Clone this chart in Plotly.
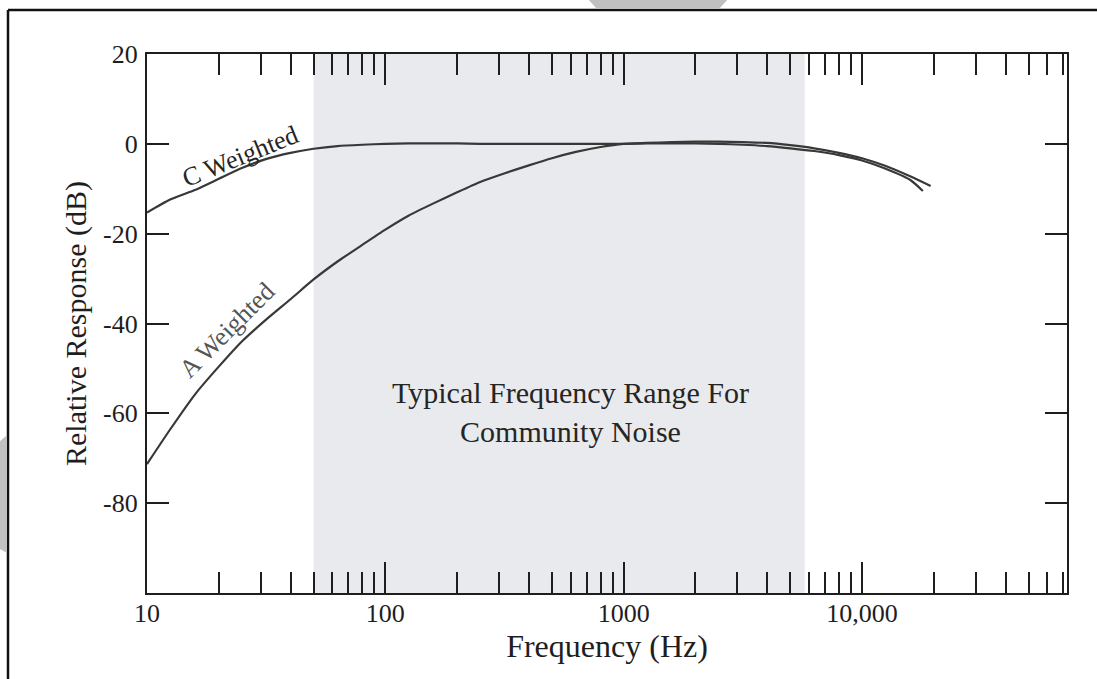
import plotly.graph_objects as go

# ---- data ----
freq_c_hz = [10, 12.5, 16, 20, 25, 31.5, 40, 50, 63, 80, 100, 125, 160, 200, 250, 315,
             400, 500, 630, 800, 1000, 1250, 1600, 2000, 2500, 3150, 4000, 5000, 6300,
             8000, 10000, 12500, 16000, 18000]
c_weighted_db = [-15.3, -12.4, -10.2, -7.8, -5.4, -3.4, -2.0, -1.1, -0.5, -0.2, 0.0,
                 0.1, 0.1, 0.1, 0.0, 0.0, 0.0, 0.0, 0.0, 0.0, 0.0, 0.1, 0.1, 0.1,
                 0.0, -0.2, -0.5, -1.0, -1.6, -2.5, -3.7, -5.5, -8.1, -10.5]
freq_a_hz = [10, 12.5, 16, 20, 25, 31.5, 40, 50, 63, 80, 100, 125, 160, 200, 250, 315,
             400, 500, 630, 800, 1000, 1250, 1600, 2000, 2500, 3150, 4000, 5000, 6300,
             8000, 10000, 12500, 16000, 19400]
a_weighted_db = [-71.3, -63.6, -55.6, -49.6, -44.0, -39.2, -34.6, -30.2, -26.2, -22.5,
                 -19.1, -16.0, -13.2, -10.8, -8.5, -6.6, -4.8, -3.2, -1.8, -0.7, 0.0,
                 0.2, 0.4, 0.5, 0.5, 0.4, 0.2, -0.3, -1.0, -2.0, -3.2, -4.9, -7.3, -9.4]
community_range_hz = [50, 5750]

x_major_vals = [10, 100, 1000, 10000]
x_major_text = ["10", "100", "1000", "10,000"]
x_minor_vals = [m * d for d in (10, 100, 1000, 10000) for m in range(2, 10)]
y_tick_vals = [-80, -60, -40, -20, 0, 20]
y_tick_text = ["-80", "-60", "-40", "-20", "0", "20"]

FONT = "Liberation Serif"
INK = "#1e1e1e"
W, H = 1097, 679
ML, MR, MT, MB = 147, 30, 54, 86
PW, PH = W - ML - MR, H - MT - MB


def px(x):
    return (x - ML) / PW


def py(y):
    return (H - MB - y) / PH


fig = go.Figure()
line_style = dict(color="#383838", width=2.2, shape="spline", smoothing=0.6)
fig.add_trace(go.Scatter(x=freq_c_hz, y=c_weighted_db, mode="lines", line=line_style,
                         name="C Weighted", hoverinfo="x+y"))
fig.add_trace(go.Scatter(x=freq_a_hz, y=a_weighted_db, mode="lines", line=line_style,
                         name="A Weighted", hoverinfo="x+y"))

shapes = [
    dict(type="rect", xref="x", yref="paper", x0=community_range_hz[0],
         x1=community_range_hz[1], y0=0, y1=1, fillcolor="#e9eaed",
         line=dict(width=0), layer="below"),
    # outer frame (top and left)
    dict(type="line", xref="paper", yref="paper", x0=px(8), x1=px(W + 5), y0=py(10), y1=py(10),
         line=dict(color="#111111", width=2.5)),
    dict(type="line", xref="paper", yref="paper", x0=px(8), x1=px(8), y0=py(10), y1=py(H + 5),
         line=dict(color="#111111", width=2.5)),
    # grey page decorations
    dict(type="path", xref="paper", yref="paper", fillcolor="#c0c0c0", line=dict(width=0),
         path=f"M {px(587)} {py(-2)} L {px(729)} {py(-2)} L {px(719)} {py(9)} L {px(597)} {py(9)} Z"),
    dict(type="path", xref="paper", yref="paper", fillcolor="#c0c0c0", line=dict(width=0),
         path=f"M {px(-2)} {py(443)} L {px(7)} {py(435)} L {px(7)} {py(553)} L {px(-2)} {py(548)} Z"),
]

annotations = [
    dict(x=1.39, y=-2.8, xref="x", yref="y", text="C Weighted", showarrow=False,
         textangle=-22, font=dict(family=FONT, size=26, color="#252525")),
    dict(x=1.335, y=-41.6, xref="x", yref="y", text="A Weighted", showarrow=False,
         textangle=-45, font=dict(family=FONT, size=26, color="#555555")),
    dict(x=2.775, y=-59.6, xref="x", yref="y",
         text="Typical Frequency Range For<br>Community Noise",
         showarrow=False, align="center",
         font=dict(family=FONT, size=30, color="#252525")),
]

fig.update_layout(
    width=W, height=H, margin=dict(l=ML, r=MR, t=MT, b=MB, pad=0),
    paper_bgcolor="white", plot_bgcolor="white", showlegend=False,
    font=dict(family=FONT, color=INK),
    shapes=shapes, annotations=annotations,
    xaxis=dict(type="log", range=[1, 4.86], showgrid=False, zeroline=False,
               showline=True, linecolor=INK, linewidth=2.2, mirror="ticks",
               tickmode="array", tickvals=x_major_vals, ticktext=x_major_text,
               ticks="inside", ticklen=31, tickwidth=2.2, tickcolor=INK,
               ticklabelstandoff=-4,
               tickfont=dict(family=FONT, size=26, color=INK),
               minor=dict(tickmode="array", tickvals=x_minor_vals, ticks="inside",
                          ticklen=21, tickwidth=2.2, tickcolor=INK, showgrid=False),
               title=dict(text="Frequency (Hz)", font=dict(family=FONT, size=32, color=INK),
                          standoff=4)),
    yaxis=dict(range=[-100, 20], showgrid=False, zeroline=False,
               showline=True, linecolor=INK, linewidth=2.2, mirror="ticks",
               tickmode="array", tickvals=y_tick_vals, ticktext=y_tick_text,
               ticks="inside", ticklen=22, tickwidth=2.2, tickcolor=INK,
               ticklabelstandoff=2,
               tickfont=dict(family=FONT, size=26, color=INK),
               title=dict(text="Relative Response (dB)",
                          font=dict(family=FONT, size=30, color=INK), standoff=8)),
)

fig.write_html("out.html")
